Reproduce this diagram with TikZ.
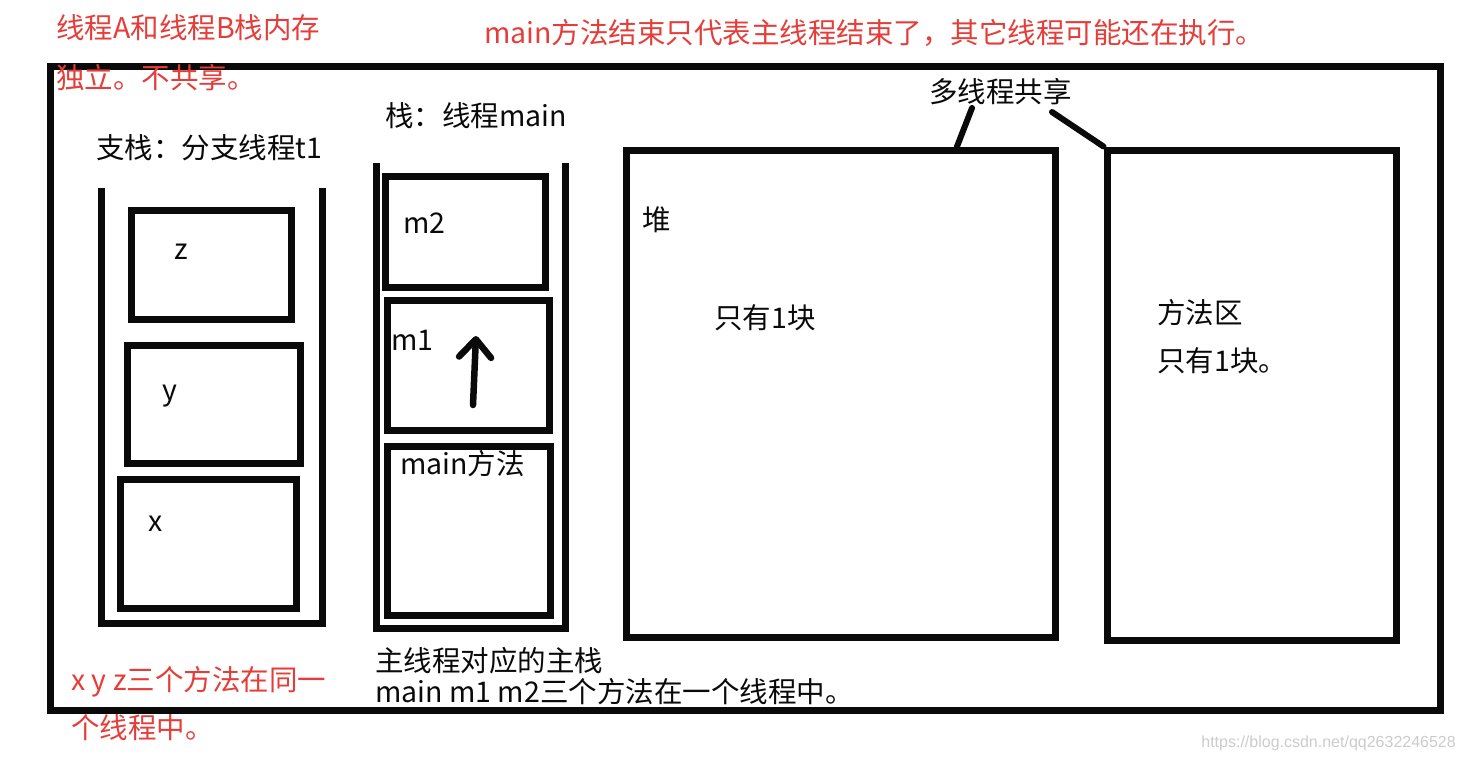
\documentclass[tikz,border=0pt]{standalone}
\usepackage{fontspec}
\setmainfont{Noto Sans CJK SC}
\newfontfamily\wmfont{Liberation Sans}
\usetikzlibrary{arrows.meta}
\definecolor{notered}{RGB}{229,62,58}
\definecolor{ink}{RGB}{10,10,10}
\tikzset{
  thickline/.style={line width=7pt, draw=ink},
  box/.style={thickline, rectangle, inner sep=0pt},
  lbl/.style={inner sep=0pt, anchor=west, text=ink, font=\fontsize{28.5}{32}\selectfont},
  note/.style={inner sep=0pt, anchor=west, text=notered, font=\fontsize{28.5}{32}\selectfont}
}
\begin{document}
\begin{tikzpicture}[x=1pt,y=-1pt]
\useasboundingbox[fill=white] (0,0) rectangle (1465,761);

% outer frame
\node[box, minimum width=1390pt, minimum height=644pt] (frame) at (745,388) {};

% left branch stack (U shape)
\coordinate (ltl) at (101,188);
\coordinate (lbl) at (101,623);
\coordinate (lbr) at (322,623);
\coordinate (ltr) at (322,188);
\draw[thickline, line cap=butt] (ltl) -- (lbl) -- (lbr) -- (ltr);
\node[box, minimum width=160pt, minimum height=109pt] (zbox) at (211,265) {};
\node[box, minimum width=173pt, minimum height=118pt] (ybox) at (213.5,404) {};
\node[box, minimum width=176pt, minimum height=129pt] (xbox) at (208,543.5) {};
\node[lbl] (zt) at (174,252) {z};
\node[lbl] (yt) at (162,396) {y};
\node[lbl] (xt) at (148,524) {x};

% main stack (U shape)
\coordinate (mtl) at (376,163);
\coordinate (mbl) at (376,628);
\coordinate (mbr) at (565,628);
\coordinate (mtr) at (565,163);
\draw[thickline, line cap=butt] (mtl) -- (mbl) -- (mbr) -- (mtr);
\node[box, minimum width=160pt, minimum height=111pt] (m2box) at (465,231.5) {};
\node[box, minimum width=162pt, minimum height=130pt] (m1box) at (468,365) {};
\node[box, minimum width=163pt, minimum height=169pt] (mainbox) at (468.5,530.5) {};
\node[lbl] (m2t) at (403,223) {m2};
\node[lbl] (m1t) at (391,340) {m1};
\node[lbl] (maint) at (400,464) {main方法};
\coordinate (arrS) at (473,405);
\coordinate (arrE) at (476,336);
\draw[line width=6.5pt, line cap=round, draw=ink, -{Straight Barb[length=18pt, width=32pt, line width=6.5pt, round]}] (arrS) -- (arrE);

% heap and method area
\node[box, minimum width=429pt, minimum height=487pt] (heap) at (840.5,393.5) {};
\node[box, minimum width=289pt, minimum height=490pt] (marea) at (1251.5,395) {};
\node[lbl] (heapt) at (642,220) {堆};
\node[lbl] (heapn) at (714,318) {只有1块};
\node[lbl] (mareat) at (1157,313) {方法区};
\node[lbl] (marean) at (1157,361) {只有1块。};

% shared label and its leaders
\node[lbl] (shared) at (929,92) {多线程共享};
\coordinate (s1) at (972,108);
\coordinate (s2) at (1052,112);
\draw[line width=6pt, draw=ink, line cap=round] (s1) -- (heap.north -| 957,0);
\draw[line width=6pt, draw=ink, line cap=round] (s2) -- (marea.north west);

% stack titles
\node[lbl] (ltitle) at (96,148) {支栈：分支线程t1};
\node[lbl] (mtitle) at (385,116) {栈：线程main};

% bottom black captions
\node[lbl] (cap1) at (375,661) {主线程对应的主栈};
\node[lbl] (cap2) at (375,692) {main m1 m2三个方法在一个线程中。};

% red notes
\node[note] (n1a) at (56,28) {线程A和线程B栈内存};
\node[note] (n1b) at (56,78) {独立。不共享。};
\node[note] (n2) at (484,33) {main方法结束只代表主线程结束了，其它线程可能还在执行。};
\node[note] (n3a) at (71,682) {x y z三个方法在同一};
\node[note] (n3b) at (71,728) {个线程中。};

% watermark
\node[inner sep=0pt, anchor=east, text=gray!40, font=\wmfont\fontsize{16}{18}\selectfont] (wm) at (1456,743) {https://blog.csdn.net/qq2632246528};
\end{tikzpicture}
\end{document}
